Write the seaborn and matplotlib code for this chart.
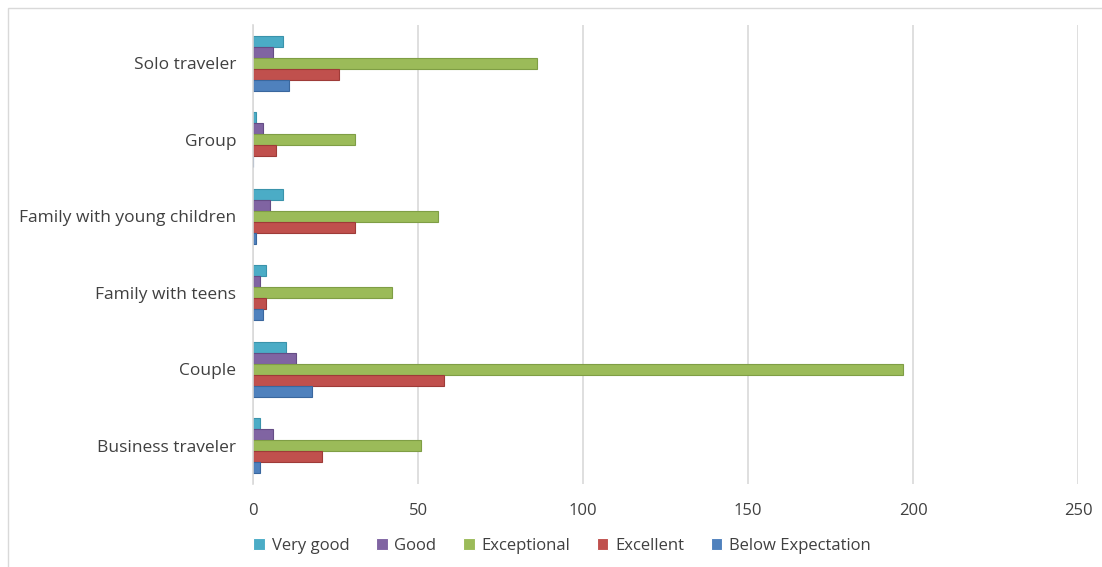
import matplotlib
matplotlib.use("Agg")
import matplotlib.pyplot as plt
import seaborn as sns
import pandas as pd
from matplotlib.patches import Rectangle

categories = ["Solo traveler", "Group", "Family with young children",
              "Family with teens", "Couple", "Business traveler"]
series = ["Very good", "Good", "Exceptional", "Excellent", "Below Expectation"]
very_good = [9, 1, 9, 4, 10, 2]
good = [6, 3, 5, 2, 13, 6]
exceptional = [86, 31, 56, 42, 197, 51]
excellent = [26, 7, 31, 4, 58, 21]
below_expectation = [11, 0, 1, 3, 18, 2]
x_ticks = [0, 50, 100, 150, 200, 250]

colors = ["#4BACC6", "#8064A2", "#9BBB59", "#C0504D", "#4F81BD"]
edges = ["#3A93AB", "#654D85", "#7F9E45", "#9E3B38", "#3A679E"]

values = [very_good, good, exceptional, excellent, below_expectation]
rows = []
for s, vals in zip(series, values):
    for c, v in zip(categories, vals):
        rows.append({"category": c, "series": s, "value": v})
df = pd.DataFrame(rows)

sns.set_theme(style="white")
plt.rcParams['font.family'] = ['Open Sans', 'DejaVu Sans']

fig = plt.figure(figsize=(11.02, 5.67), dpi=100)
ax = fig.add_axes([253 / 1102, 1 - 484 / 567, (1078 - 253) / 1102, (484 - 25) / 567])

sns.barplot(data=df, y="category", x="value", hue="series",
            order=categories, hue_order=series, palette=colors,
            saturation=1, orient="h", width=0.72, errorbar=None, ax=ax,
            legend=True, linewidth=0.8)

# darker edges per series
for cont, ec in zip(ax.containers, edges):
    for p in cont:
        p.set_edgecolor(ec)

ax.set_xlim(0, 250)
ax.set_ylim(len(categories) - 0.5, -0.5)
ax.set_xticks(x_ticks)
ax.set_xticklabels([str(t) for t in x_ticks], fontsize=12, color="#404040")
ax.tick_params(axis="y", labelsize=12.5, labelcolor="#404040", length=0, pad=12)
ax.tick_params(axis="x", length=0, pad=14)
ax.set_xlabel("")
ax.set_ylabel("")
ax.grid(axis="x", color="#D9D9D9", linewidth=1.2)
ax.set_axisbelow(True)
for side in ["top", "right", "bottom"]:
    ax.spines[side].set_visible(False)
ax.spines["left"].set_color("#D9D9D9")
ax.spines["left"].set_linewidth(1.2)

leg = ax.get_legend()
handles = leg.legend_handles
leg.remove()
fig.legend(handles, series, loc="center", bbox_to_anchor=(562 / 1102, 1 - 546 / 567),
           ncol=5, frameon=False, fontsize=12, handlelength=0.7, handleheight=0.7,
           handletextpad=0.4, columnspacing=1.6, labelcolor="#404040")

fig.patches.append(Rectangle((8 / 1102, -0.1), 1.2, 1 - 8 / 567 + 0.1,
                             transform=fig.transFigure, fill=False,
                             edgecolor="#D9D9D9", linewidth=1.0))

fig.savefig("out.png", dpi=100, facecolor="white")
